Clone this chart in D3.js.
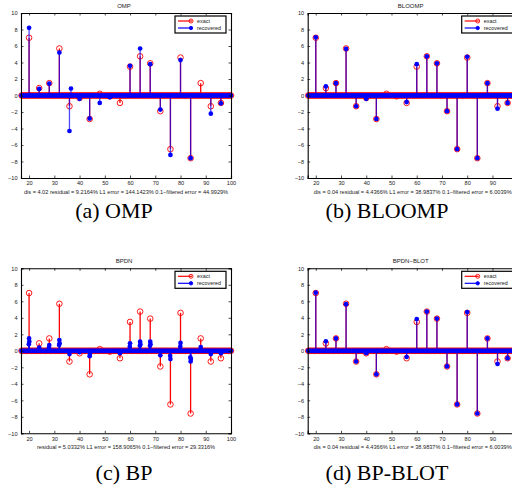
<!DOCTYPE html>
<html>
<head>
<meta charset="utf-8">
<script src="https://cdn.jsdelivr.net/npm/d3@7"></script>
<style>
  body { margin: 0; background: #fff; }
  text { font-family: "Liberation Sans", Arial, sans-serif; }
  .cap { font-family: "Liberation Serif", serif; }
</style>
</head>
<body>
<div id="fig"></div>
<script>
const W = 512, H = 490;

// axis ticks
const xTicks = [20, 30, 40, 50, 60, 70, 80, 90, 100];
const yTicks = [-10, -8, -6, -4, -2, 0, 2, 4, 6, 8, 10];
const xDomain = [16.8, 100];

// sample grid ends (all other samples are zero)
const gridStart = 17, gridEnd = 100, gridStep = 0.5;

// exact signal (same in every panel)
const exactPos = [20, 24, 28, 32, 36, 40, 44, 48, 52, 56, 60, 64, 68, 72, 76, 80, 84, 88, 92, 96];
const exactVal = [7.0, 0.9, 1.5, 5.7, -1.3, -0.3, -2.85, 0.2, -0.1, -0.9, 3.5, 4.75, 3.9, -1.9, -6.5, 4.6, -7.6, 1.5, -1.3, -0.9];

// OMP recovered
const ompPos = [20, 24, 28, 32, 36, 36.6, 40, 44, 48, 52, 60, 64, 68, 72, 76, 80, 84, 92, 96];
const ompVal = [8.2, 0.8, 1.45, 5.2, -4.3, 0.85, -0.4, -2.8, -0.9, -0.2, 3.6, 5.7, 3.8, -1.7, -7.2, 4.3, -7.6, -2.2, -0.95];

// BLOOMP recovered
const bloompPos = [20, 24, 28, 32, 36, 40, 44, 56, 60, 64, 68, 72, 76, 80, 84, 88, 92, 96];
const bloompVal = [7.05, 1.1, 1.5, 5.65, -1.3, -0.4, -2.85, -0.8, 3.8, 4.75, 3.9, -1.9, -6.5, 4.7, -7.6, 1.5, -1.6, -0.9];

// BP recovered (small clustered spikes)
const bpPos = [19.9, 20, 20.1, 24, 27.9, 28, 31.9, 32, 32.1, 36, 40, 44, 44.1, 56, 59.9, 60, 63.9, 64, 64.1, 67.9, 68, 68.1, 72, 75.9, 76, 79.9, 80, 83.9, 84, 84.1, 88, 92, 96];
const bpVal = [0.8, 1.5, 1.1, 0.4, 0.4, 0.7, 0.7, 1.3, 0.9, -0.4, -0.15, -0.65, -0.4, -0.3, 0.5, 0.9, 0.6, 1.1, 0.8, 0.6, 1.1, 0.8, -0.55, -0.6, -1.0, 0.5, 0.95, -0.8, -1.3, -1.0, 0.45, -0.4, -0.3];

// BP-BLOT recovered
const blotPos = [20, 24, 28, 32, 36, 40, 44, 56, 60, 64, 68, 72, 76, 80, 84, 88, 92, 96];
const blotVal = [7.05, 1.15, 1.5, 5.65, -1.3, -0.3, -2.85, -0.75, 3.85, 4.75, 3.9, -1.9, -6.5, 4.7, -7.6, 1.5, -1.6, -0.9];

const panels = [
  {title: "OMP", left: 21, top: 13, pos: ompPos, val: ompVal, caption: "(a) OMP", capX: 114, capY: 218,
   footer: "dis = 4.02 residual = 9.2164% L1 error = 144.1423% 0.1\u2212filtered error = 44.9929%"},
  {title: "BLOOMP", left: 307.7, top: 13, pos: bloompPos, val: bloompVal, caption: "(b) BLOOMP", capX: 387, capY: 218,
   footer: "dis = 0.04 residual = 4.4366% L1 error = 38.9837% 0.1\u2212filtered error = 6.0039%"},
  {title: "BPDN", left: 21, top: 268.3, pos: bpPos, val: bpVal, caption: "(c) BP", capX: 124, capY: 480,
   footer: "residual = 5.0332% L1 error = 158.9065% 0.1\u2212filtered error = 29.3316%"},
  {title: "BPDN\u2212BLOT", left: 307.7, top: 268.3, pos: blotPos, val: blotVal, caption: "(d) BP-BLOT", capX: 387, capY: 480,
   footer: "dis = 0.04 residual = 4.4366% L1 error = 38.9837% 0.1\u2212filtered error = 6.0039%"}
];

const pw = 210, ph = 165;
const red = "#ff0000", blue = "#0000ff";

const svg = d3.select("#fig").append("svg")
  .attr("width", W).attr("height", H);

const grid = d3.range(gridStart, gridEnd + 1e-9, gridStep);

panels.forEach(p => {
  const g = svg.append("g").attr("transform", `translate(${p.left},${p.top})`);
  const x = d3.scaleLinear().domain(xDomain).range([0, pw]);
  const y = d3.scaleLinear().domain([-10, 10]).range([ph, 0]);

  const exact = grid.map(v => ({x: v, y: 0}))
    .concat(exactPos.map((v, i) => ({x: v, y: exactVal[i]})));
  const rec = grid.map(v => ({x: v, y: 0}))
    .concat(p.pos.map((v, i) => ({x: v, y: p.val[i]})));

  // exact stems
  g.append("g").selectAll("line").data(exactPos).enter().append("line")
    .attr("x1", d => x(d)).attr("x2", d => x(d))
    .attr("y1", y(0)).attr("y2", (d, i) => y(exactVal[i]))
    .attr("stroke", red).attr("stroke-width", 1.3);
  g.append("line").attr("x1", x(gridStart)).attr("x2", x(gridEnd))
    .attr("y1", y(0)).attr("y2", y(0)).attr("stroke", red).attr("stroke-width", 1);
  g.append("g").selectAll("circle").data(exact).enter().append("circle")
    .attr("cx", d => x(d.x)).attr("cy", d => y(d.y)).attr("r", 2.8)
    .attr("fill", "none").attr("stroke", red).attr("stroke-width", 0.9);

  // recovered stems
  g.append("g").selectAll("line").data(p.pos).enter().append("line")
    .attr("x1", d => x(d)).attr("x2", d => x(d))
    .attr("y1", y(0)).attr("y2", (d, i) => y(p.val[i]))
    .attr("stroke", blue).attr("stroke-width", 1.3).attr("stroke-opacity", 0.7);
  g.append("g").selectAll("circle").data(rec).enter().append("circle")
    .attr("cx", d => x(d.x)).attr("cy", d => y(d.y)).attr("r", 2.35)
    .attr("fill", blue);

  // axes box with inward ticks
  const xa = d3.axisBottom(x).tickValues(xTicks).tickSize(-2.5).tickPadding(3.5);
  const ya = d3.axisLeft(y).tickValues(yTicks).tickSize(-2.5).tickPadding(3.5)
    .tickFormat(d => d < 0 ? "\u2212" + Math.abs(d) : d);
  const xt = d3.axisTop(x).tickValues(xTicks).tickSize(-2.5).tickFormat("");
  const yr = d3.axisRight(y).tickValues(yTicks).tickSize(-2.5).tickFormat("");
  [
    g.append("g").attr("transform", `translate(0,${ph})`).call(xa),
    g.append("g").call(ya),
    g.append("g").call(xt),
    g.append("g").attr("transform", `translate(${pw},0)`).call(yr)
  ].forEach(a => {
    a.select(".domain").attr("stroke", "#000").attr("stroke-width", 1.1);
    a.selectAll(".tick line").attr("stroke", "#000").attr("stroke-width", 0.7);
    a.selectAll("text").attr("font-size", 5.6).attr("fill", "#222")
      .attr("font-family", "Liberation Sans, Arial, sans-serif");
  });

  g.append("text").attr("x", pw / 2 - 2).attr("y", -5)
    .attr("text-anchor", "middle").attr("font-size", 6).attr("fill", "#222").text(p.title);

  g.append("text").attr("x", pw / 2).attr("y", ph + 15.5)
    .attr("text-anchor", "middle").attr("font-size", 5.6).attr("fill", "#222").text(p.footer);

  // legend
  const lg = g.append("g").attr("transform", `translate(${pw - 56},3)`);
  lg.append("rect").attr("width", 51).attr("height", 17)
    .attr("fill", "#fff").attr("stroke", "#000").attr("stroke-width", 1.2);
  const items = [{c: red, t: "exact", open: true}, {c: blue, t: "recovered", open: false}];
  items.forEach((it, i) => {
    const yy = 5 + i * 7;
    lg.append("line").attr("x1", 3).attr("x2", 17).attr("y1", yy).attr("y2", yy)
      .attr("stroke", it.c).attr("stroke-width", 1.2);
    lg.append("circle").attr("cx", 16).attr("cy", yy).attr("r", it.open ? 2 : 1.7)
      .attr("fill", it.open ? "none" : it.c).attr("stroke", it.c).attr("stroke-width", 0.9);
    lg.append("text").attr("x", 22).attr("y", yy + 2).attr("font-size", 5.4)
      .attr("fill", "#222").text(it.t);
  });

  svg.append("text").attr("class", "cap").attr("x", p.capX).attr("y", p.capY)
    .attr("text-anchor", "middle").attr("font-size", 22).attr("fill", "#000")
    .text(p.caption);
});
</script>
</body>
</html>
